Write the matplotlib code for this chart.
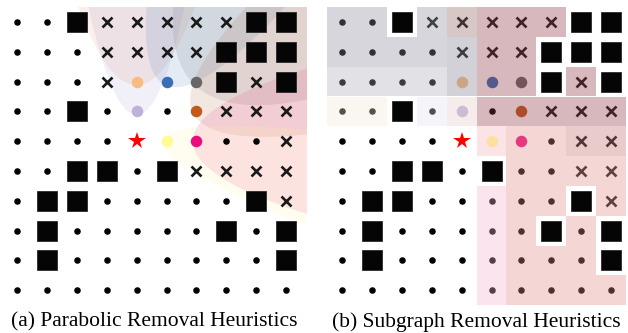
import numpy as np
import matplotlib.pyplot as plt
from matplotlib.patches import Polygon, Rectangle

# grid symbols: . dot, x removed, # obstacle, * start, letters = coloured nodes
grid_a = [
    "..#xxxxx##",
    "...xxxx###",
    "...xobg#x#",
    "..#.l.rxxx",
    "....*ym..x",
    "..##.#xxxx",
    ".##.....#x",
    ".#.....#.#",
    ".#.......#",
    "..........",
]
grid_b = [
    "..#xxxxx##",
    "....xxx###",
    "....obg#x#",
    "..#.l.rxxx",
    "....*ym.xx",
    "..##.#..xx",
    ".##.....#x",
    ".#.....#.#",
    ".#.......#",
    "..........",
]

node_colors = {'o': '#f8bb83', 'b': '#3a6fb6', 'g': '#676767', 'l': '#bfb2da',
               'r': '#c15a1b', 'y': '#fffb95', 'm': '#ea0c7c'}

# parabolic regions of panel (a): node, opening direction, width factor
par_nodes = ['o', 'l', 'b', 'g', 'r', 'm', 'y']
par_dirs = [(0, -1), (0, -1), (1, -2), (1, -1), (2, -1), (1, 0), (4, 1)]
par_a = [0.69, 1.4, 0.7, 0.25, 0.56, 0.64, 2.0]
par_colors = ['#e8a080', '#a89ed0', '#5a86c0', '#7a7a7a', '#b86a50', '#ee4a8a', '#fff3a0']

# cell shading of panel (b), seen colour of each region over white
cells_b = [
    "GG.GBMMM..",
    "GGGGHMM...",
    "ggggHMM.M.",
    "cc.lqMMMMM",
    ".....yPPRR",
    "......PPPP",
    ".....pPP.P",
    ".....pP.P.",
    ".....pPPP.",
    ".....pPPPP",
]
cell_seen = {'G': (215, 214, 220), 'g': (226, 225, 231), 'H': (209, 209, 215),
             'B': (215, 200, 197), 'M': (214, 184, 189), 'c': (252, 247, 240),
             'l': (245, 244, 250), 'q': (247, 236, 236), 'y': (252, 227, 231),
             'P': (245, 215, 213), 'R': (233, 203, 203), 'p': (251, 228, 238)}

captions = ["(a) Parabolic Removal Heuristics", "(b) Subgraph Removal Heuristics"]

W, H = 628, 333
fig = plt.figure(figsize=(W / 100, H / 100), dpi=100)


def make_ax(x0px, xlim, ylim):
    # axes placed so that one cell is ~29.9 px
    sx, sy = 29.9, 29.8
    left = x0px + xlim[0] * sx
    right = x0px + xlim[1] * sx
    top = 22 + ylim[0] * sy
    bot = 22 + ylim[1] * sy
    ax = fig.add_axes([left / W, 1 - bot / H, (right - left) / W, (bot - top) / H])
    ax.set_xlim(*xlim)
    ax.set_ylim(ylim[1], ylim[0])
    ax.axis('off')
    return ax


def draw_nodes(ax, grid, colors, z):
    for r, row in enumerate(grid):
        for c, ch in enumerate(row):
            if ch == '.':
                ax.plot(c, r, 'o', ms=3.7, color='black', zorder=z)
            elif ch == 'x':
                ax.plot(c, r, 'x', ms=6.8, mew=1.9, color='#1a1a1a', zorder=z)
            elif ch == '#':
                ax.plot(c, r, 's', ms=13.8, color='#050505', mec='#2a2a2a', mew=0.6, zorder=z)
            elif ch == '*':
                ax.plot(c, r, '*', ms=13, color='#ff0000', mew=0, zorder=5)
            else:
                ax.plot(c, r, 'o', ms=8.3, color=colors[ch], mew=0, zorder=z)


def find(grid, ch):
    for r, row in enumerate(grid):
        if ch in row:
            return row.index(ch), r


# panel (a)
ax1 = make_ax(17, (-0.55, 9.7), (-0.52, 9.6))
draw_nodes(ax1, grid_a, node_colors, 4)
for ch, d, a, col in zip(par_nodes, par_dirs, par_a, par_colors):
    cx, cy = find(grid_a, ch)
    u = np.array(d, float) / np.hypot(*d)
    n = np.array([-u[1], u[0]])
    s = np.linspace(-9, 9, 300)
    t = a * s ** 2
    v = np.array([cx, cy]) - 0.12 * u
    pts = v[None, :] + t[:, None] * u[None, :] + s[:, None] * n[None, :]
    ax1.add_patch(Polygon(pts, closed=True, facecolor=col, edgecolor='none',
                          alpha=0.16, zorder=3))
ax1.text(0.5, -0.015, captions[0], transform=ax1.transAxes, ha='center', va='top',
         fontsize=15.5, family='Liberation Serif')

# panel (b)
ax2 = make_ax(342, (-0.5, 9.5), (-0.52, 9.6))
draw_nodes(ax2, grid_b, node_colors, 2)
alpha = 0.35
for r, row in enumerate(cells_b):
    for c, ch in enumerate(row):
        if ch == '.':
            continue
        seen = np.array(cell_seen[ch], float)
        fill = np.clip((seen - (1 - alpha) * 255) / alpha, 0, 255) / 255
        ax2.add_patch(Rectangle((c - 0.5, r - 0.5), 1, 1, facecolor=fill,
                                edgecolor='none', alpha=alpha, zorder=3))
ax2.text(0.5, -0.015, captions[1], transform=ax2.transAxes, ha='center', va='top',
         fontsize=15.5, family='Liberation Serif')

fig.savefig('out.png', dpi=100)
